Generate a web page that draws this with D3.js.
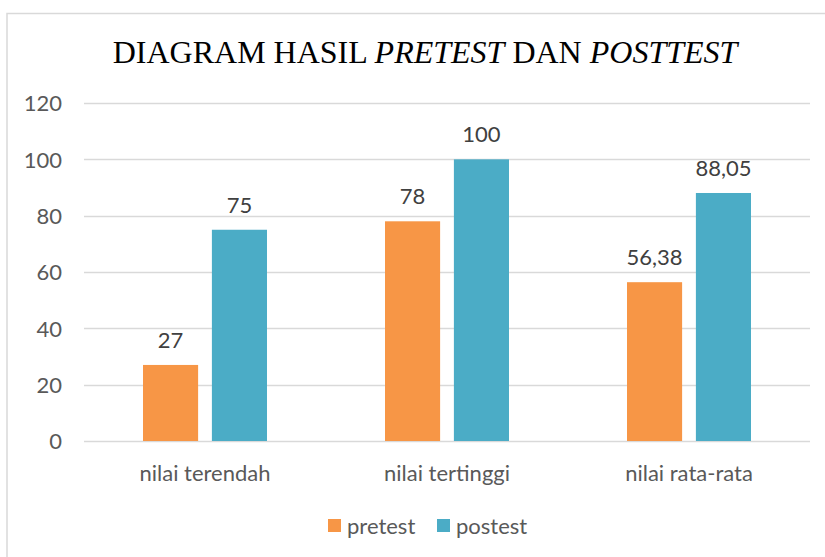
<!DOCTYPE html>
<html><head><meta charset="utf-8">
<script src="https://cdn.jsdelivr.net/npm/d3@7"></script>
<style>body{margin:0;background:#fff}</style>
</head><body>
<svg id="c" width="825" height="557"></svg>
<script>
const categories = ["nilai terendah", "nilai tertinggi", "nilai rata-rata"];
const seriesNames = ["pretest", "postest"];
const pretest = [27, 78, 56.38];
const postest = [75, 100, 88.05];
const yTicks = [0, 20, 40, 60, 80, 100, 120];
const colors = ["#F79646", "#4BACC6"];

const svg = d3.select("#c");
const tickFont = "Lato, Carlito, sans-serif";
const fs = 22;

// chart border
svg.append("rect").attr("x", 7).attr("y", 13.5).attr("width", 830).attr("height", 560)
  .attr("fill", "none").attr("stroke", "#d9d9d9").attr("stroke-width", 1.5);

// title
const title = svg.append("text").attr("x", 425).attr("y", 63).attr("text-anchor", "middle")
  .attr("font-family", "Liberation Serif, Times New Roman, serif").attr("font-size", 32).attr("fill", "#000");
title.append("tspan").text("DIAGRAM HASIL ");
title.append("tspan").attr("font-style", "italic").text("PRETEST");
title.append("tspan").text(" DAN ");
title.append("tspan").attr("font-style", "italic").text("POSTTEST");

const x0 = d3.scaleBand().domain(categories).range([84, 810]);
const x1 = d3.scaleBand().domain(seriesNames).range([59, 183]).paddingInner(0.2);
const y = d3.scaleLinear().domain([0, 120]).range([441, 103]);

// gridlines
svg.append("g").selectAll("line").data(yTicks).join("line")
  .attr("x1", 84).attr("x2", 810)
  .attr("y1", d => Math.round(y(d)) + 0.5).attr("y2", d => Math.round(y(d)) + 0.5)
  .attr("stroke", "#d9d9d9").attr("stroke-width", 1.5);

// y axis labels
const yAxis = d3.axisLeft(y).tickValues(yTicks).tickSize(0).tickPadding(0);
const ya = svg.append("g").attr("transform", "translate(62,0)").call(yAxis);
ya.select(".domain").remove();
ya.selectAll("text").attr("font-family", tickFont).attr("font-size", fs).attr("fill", "#595959").attr("dy", "0.35em");

// x axis labels
const xAxis = d3.axisBottom(x0).tickSize(0).tickPadding(0);
const xa = svg.append("g").attr("transform", "translate(0,481)").call(xAxis);
xa.select(".domain").remove();
xa.selectAll("text").attr("font-family", tickFont).attr("font-size", fs).attr("fill", "#595959").attr("dy", "0");

const data = categories.map((c, i) => ({cat: c, vals: [pretest[i], postest[i]]}));
const fmt = v => String(v).replace(".", ",");

const groups = svg.append("g").selectAll("g").data(data).join("g")
  .attr("transform", d => `translate(${x0(d.cat)},0)`);
groups.selectAll("rect").data(d => d.vals.map((v, j) => ({s: seriesNames[j], v, j}))).join("rect")
  .attr("x", d => x1(d.s)).attr("width", x1.bandwidth())
  .attr("y", d => y(d.v)).attr("height", d => y(0) - y(d.v))
  .attr("fill", d => colors[d.j]);
groups.selectAll("text").data(d => d.vals.map((v, j) => ({s: seriesNames[j], v, j}))).join("text")
  .attr("x", d => x1(d.s) + x1.bandwidth() / 2).attr("y", d => y(d.v) - 17)
  .attr("text-anchor", "middle").attr("font-family", tickFont).attr("font-size", fs).attr("fill", "#404040")
  .text(d => fmt(d.v));

// legend
const legend = svg.append("g").attr("transform", "translate(328,526)");
const legX = [0, 109];
seriesNames.forEach((s, i) => {
  const g = legend.append("g").attr("transform", `translate(${legX[i]},0)`);
  g.append("rect").attr("x", 0).attr("y", -7).attr("width", 13).attr("height", 13).attr("fill", colors[i]);
  g.append("text").attr("x", 19).attr("y", 0).attr("dy", "0.35em").attr("font-family", tickFont)
    .attr("font-size", fs).attr("fill", "#595959").text(s);
});
</script>
</body></html>
